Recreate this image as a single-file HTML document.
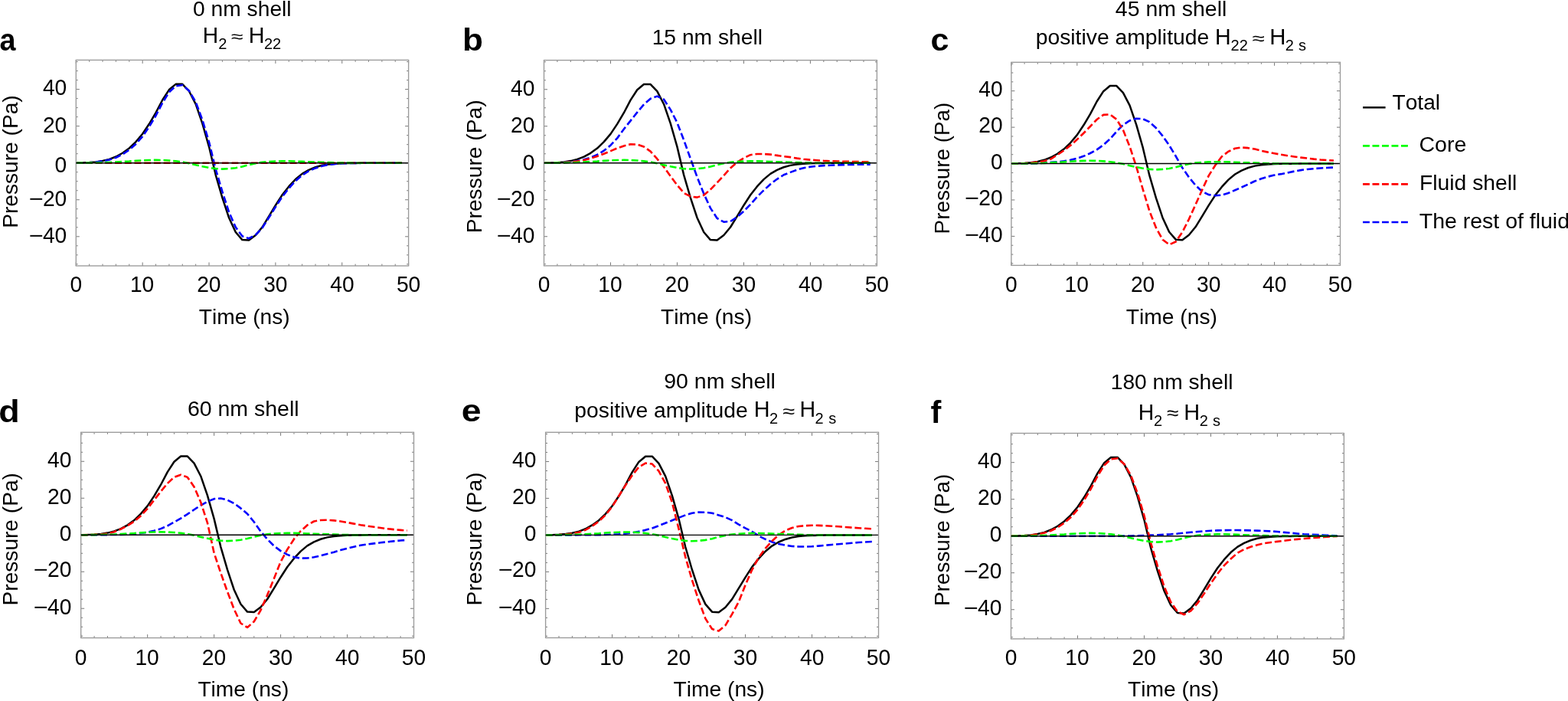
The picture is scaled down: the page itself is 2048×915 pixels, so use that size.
<!DOCTYPE html>
<html><head><meta charset="utf-8"><title>Pressure components vs time</title>
<style>
html,body{margin:0;padding:0;background:#fff;}
body{width:2048px;height:915px;overflow:hidden;}
svg{display:block;}
text{font-family:"Liberation Sans",Arial,Helvetica,sans-serif;font-kerning:none;font-feature-settings:"kern" 0;}
</style>
</head><body>
<svg width="2048" height="915" viewBox="0 0 2048 915" fill="#000">
<g>
<polyline points="99.3,212.58 107.99,212.46 116.67,212.1 125.36,211.38 134.04,210.06 142.73,207.89 151.42,204.53 160.1,199.73 168.79,193.48 177.47,185.07 186.16,174.74 194.85,161.77 203.53,147.11 212.22,130.53 220.9,117.08 229.59,109.87 238.28,109.87 246.96,119 255.65,135.82 264.33,161.05 273.02,191.56 281.71,228.32 290.39,258.11 299.08,284.29 307.76,303.03 316.45,313.12 325.14,313.61 333.82,307.12 342.51,296.55 351.19,282.37 359.88,267.96 368.57,254.5 377.25,243.45 385.94,234.08 394.62,226.87 403.31,221.83 412,218.23 420.68,215.82 429.37,214.38 438.05,213.66 446.74,213.18 455.43,212.99 464.11,212.89 472.8,212.82 481.48,212.77 490.17,212.75 498.86,212.72 507.54,212.7 516.23,212.7 524.91,212.7" fill="none" stroke="#000" stroke-width="2.5" stroke-linejoin="round"/>
<polyline points="99.3,212.58 107.99,212.51 116.67,212.22 125.36,211.62 134.04,210.54 142.73,208.62 151.42,205.73 160.1,201.41 168.79,195.64 177.47,187.95 186.16,178.1 194.85,165.49 203.53,150.96 212.22,134.26 220.9,120.32 229.59,112.28 238.28,111.07 246.96,118.52 255.65,133.18 264.33,156.48 273.02,185.31 281.71,220.87 290.39,250.18 299.08,276.85 307.76,296.55 316.45,308.32 325.14,311.2 333.82,306.64 342.51,297.51 351.19,284.05 359.88,270.12 368.57,256.91 377.25,245.85 385.94,236.24 394.62,228.68 403.31,223.27 412,219.43 420.68,216.78 429.37,214.98 438.05,213.9 446.74,213.3 455.43,213.04 464.11,212.89 472.8,212.82 481.48,212.77 490.17,212.75 498.86,212.72 507.54,212.7 516.23,212.7 524.91,212.7" fill="none" stroke="#0000ff" stroke-width="2.6" stroke-linejoin="round" stroke-dasharray="8.9 3.8"/>
<polyline points="99.3,212.7 107.99,212.7 116.67,212.7 125.36,212.7 134.04,212.7 142.73,212.7 151.42,212.7 160.1,212.7 168.79,212.7 177.47,212.7 186.16,212.7 194.85,212.7 203.53,212.7 212.22,212.7 220.9,212.7 229.59,212.7 238.28,212.7 246.96,212.7 255.65,212.7 264.33,212.7 273.02,212.7 281.71,212.7 290.39,212.7 299.08,212.7 307.76,212.7 316.45,212.7 325.14,212.7 333.82,212.7 342.51,212.7 351.19,212.7 359.88,212.7 368.57,212.7 377.25,212.7 385.94,212.7 394.62,212.7 403.31,212.7 412,212.7 420.68,212.7 429.37,212.7 438.05,212.7 446.74,212.7 455.43,212.7 464.11,212.7 472.8,212.7 481.48,212.7 490.17,212.7 498.86,212.7 507.54,212.7 516.23,212.7 524.91,212.7" fill="none" stroke="#ff0000" stroke-width="2.6" stroke-linejoin="round" stroke-dasharray="8.9 3.8"/>
<polyline points="99.3,212.7 107.99,212.65 116.67,212.58 125.36,212.46 134.04,212.22 142.73,211.98 151.42,211.5 160.1,211.02 168.79,210.54 177.47,209.82 186.16,209.34 194.85,208.98 203.53,208.86 212.22,208.98 220.9,209.46 229.59,210.3 238.28,211.5 246.96,213.18 255.65,215.34 264.33,217.26 273.02,218.95 281.71,220.15 290.39,220.63 299.08,220.15 307.76,219.19 316.45,217.51 325.14,215.1 333.82,213.18 342.51,211.74 351.19,211.02 359.88,210.54 368.57,210.3 377.25,210.3 385.94,210.54 394.62,210.9 403.31,211.26 412,211.5 420.68,211.74 429.37,212.1 438.05,212.46 446.74,212.58 455.43,212.65 464.11,212.7 472.8,212.7 481.48,212.7 490.17,212.7 498.86,212.7 507.54,212.7 516.23,212.7 524.91,212.7" fill="none" stroke="#00ff00" stroke-width="2.6" stroke-linejoin="round" stroke-dasharray="8.9 3.8"/>
<path d="M99.3 347v-4.5M99.3 78.4v4.5M116.67 347v-2.4M116.67 78.4v2.4M134.04 347v-2.4M134.04 78.4v2.4M151.42 347v-2.4M151.42 78.4v2.4M168.79 347v-2.4M168.79 78.4v2.4M186.16 347v-4.5M186.16 78.4v4.5M203.53 347v-2.4M203.53 78.4v2.4M220.9 347v-2.4M220.9 78.4v2.4M238.28 347v-2.4M238.28 78.4v2.4M255.65 347v-2.4M255.65 78.4v2.4M273.02 347v-4.5M273.02 78.4v4.5M290.39 347v-2.4M290.39 78.4v2.4M307.76 347v-2.4M307.76 78.4v2.4M325.14 347v-2.4M325.14 78.4v2.4M342.51 347v-2.4M342.51 78.4v2.4M359.88 347v-4.5M359.88 78.4v4.5M377.25 347v-2.4M377.25 78.4v2.4M394.62 347v-2.4M394.62 78.4v2.4M412 347v-2.4M412 78.4v2.4M429.37 347v-2.4M429.37 78.4v2.4M446.74 347v-4.5M446.74 78.4v4.5M464.11 347v-2.4M464.11 78.4v2.4M481.48 347v-2.4M481.48 78.4v2.4M498.86 347v-2.4M498.86 78.4v2.4M516.23 347v-2.4M516.23 78.4v2.4M533.6 347v-4.5M533.6 78.4v4.5M99.3 344.84h2.4M533.6 344.84h-2.4M99.3 332.83h2.4M533.6 332.83h-2.4M99.3 320.81h2.4M533.6 320.81h-2.4M99.3 308.8h4.5M533.6 308.8h-4.5M99.3 296.79h2.4M533.6 296.79h-2.4M99.3 284.78h2.4M533.6 284.78h-2.4M99.3 272.76h2.4M533.6 272.76h-2.4M99.3 260.75h4.5M533.6 260.75h-4.5M99.3 248.74h2.4M533.6 248.74h-2.4M99.3 236.73h2.4M533.6 236.73h-2.4M99.3 224.71h2.4M533.6 224.71h-2.4M99.3 212.7h4.5M533.6 212.7h-4.5M99.3 200.69h2.4M533.6 200.69h-2.4M99.3 188.67h2.4M533.6 188.67h-2.4M99.3 176.66h2.4M533.6 176.66h-2.4M99.3 164.65h4.5M533.6 164.65h-4.5M99.3 152.64h2.4M533.6 152.64h-2.4M99.3 140.62h2.4M533.6 140.62h-2.4M99.3 128.61h2.4M533.6 128.61h-2.4M99.3 116.6h4.5M533.6 116.6h-4.5M99.3 104.59h2.4M533.6 104.59h-2.4M99.3 92.57h2.4M533.6 92.57h-2.4M99.3 80.56h2.4M533.6 80.56h-2.4" stroke="#787878" stroke-width="1.0" fill="none"/>
<rect x="99.3" y="78.4" width="434.3" height="268.6" fill="none" stroke="#9a9a9a" stroke-width="1.35"/>
<line x1="99.3" y1="212.7" x2="532.9" y2="212.7" stroke="#000" stroke-width="1.4"/>
<text x="91.46" y="381" font-size="28.2" transform="matrix(1 0 0 1.02 0 -7.62)">0</text>
<text x="169.95" y="381" font-size="28.2" transform="matrix(1 0 0 1.02 0 -7.62)">10</text>
<text x="257.18" y="381" font-size="28.2" transform="matrix(1 0 0 1.02 0 -7.62)">20</text>
<text x="344.21" y="381" font-size="28.2" transform="matrix(1 0 0 1.02 0 -7.62)">30</text>
<text x="431.28" y="381" font-size="28.2" transform="matrix(1 0 0 1.02 0 -7.62)">40</text>
<text x="517.9" y="381" font-size="28.2" transform="matrix(1 0 0 1.02 0 -7.62)">50</text>
<text x="55.93" y="124.06" font-size="28.2" transform="matrix(1 0 0 1.02 0 -2.48)">40</text>
<text x="55.93" y="172.71" font-size="28.2" transform="matrix(1 0 0 1.02 0 -3.45)">20</text>
<text x="71.62" y="225.31" font-size="28.2" transform="matrix(1 0 0 1.02 0 -4.51)">0</text>
<text x="55.93" y="268.71" font-size="28.2" transform="matrix(1 0 0 1.02 0 -5.37)">20</text>
<text x="37.7" y="268.71" font-size="28.2" textLength="18.99" lengthAdjust="spacingAndGlyphs">−</text>
<text x="55.93" y="317.21" font-size="28.2" transform="matrix(1 0 0 1.02 0 -6.34)">40</text>
<text x="37.7" y="317.21" font-size="28.2" textLength="18.99" lengthAdjust="spacingAndGlyphs">−</text>
<text x="259.87" y="423" font-size="28.2" textLength="118.88" lengthAdjust="spacingAndGlyphs">Time (ns)</text>
<text transform="translate(23.41 297.81) rotate(-90)" x="0" y="0" font-size="28.2" textLength="173.55" lengthAdjust="spacingAndGlyphs">Pressure (Pa)</text>
</g>
<g>
<polyline points="710.5,212.63 719.2,212.51 727.9,212.15 736.59,211.43 745.29,210.11 753.99,207.95 762.69,204.59 771.39,199.79 780.08,193.55 788.78,185.15 797.48,174.83 806.18,161.87 814.88,147.23 823.57,130.68 832.27,117.24 840.97,110.04 849.67,110.04 858.37,119.16 867.06,135.96 875.76,161.15 884.46,191.63 893.16,228.35 901.86,258.11 910.55,284.26 919.25,302.98 927.95,313.06 936.65,313.54 945.35,307.06 954.04,296.5 962.74,282.34 971.44,267.95 980.14,254.51 988.84,243.47 997.53,234.11 1006.23,226.91 1014.93,221.87 1023.63,218.27 1032.33,215.87 1041.02,214.43 1049.72,213.71 1058.42,213.23 1067.12,213.04 1075.82,212.94 1084.51,212.87 1093.21,212.82 1101.91,212.8 1110.61,212.77 1119.31,212.75 1128,212.75 1136.7,212.75" fill="none" stroke="#000" stroke-width="2.5" stroke-linejoin="round"/>
<polyline points="710.5,212.75 719.2,212.68 727.9,212.51 736.59,212.07 745.29,211.31 753.99,210.09 762.69,208.28 771.39,205.59 780.08,201.87 788.78,196.74 797.48,189.7 806.18,180.37 814.88,168.47 823.57,157.58 832.27,146.61 840.97,136.47 849.67,128.71 858.37,125.64 867.06,129.79 875.76,143.11 884.46,160.16 893.16,182.79 901.86,207 910.55,231.03 919.25,252.84 927.95,271.65 936.65,284.96 945.35,289.73 954.04,289 962.74,283.34 971.44,275.72 980.14,266.9 988.84,256.99 997.53,248.4 1006.23,240.42 1014.93,233.78 1023.63,228.27 1032.33,224.9 1041.02,221.6 1049.72,219.24 1058.42,217.75 1067.12,216.82 1075.82,216.17 1084.51,215.68 1093.21,215.36 1101.91,215.12 1110.61,214.93 1119.31,214.79 1128,214.67 1136.7,214.6" fill="none" stroke="#0000ff" stroke-width="2.6" stroke-linejoin="round" stroke-dasharray="8.9 3.8"/>
<polyline points="710.5,212.75 719.2,212.68 727.9,212.51 736.59,212.16 745.29,211.55 753.99,210.51 762.69,208.98 771.39,206.77 780.08,203.97 788.78,200.7 797.48,197.14 806.18,193.48 814.88,190.44 823.57,188.27 832.27,188.52 840.97,191.48 849.67,197.62 858.37,207.47 867.06,217.8 875.76,230.03 884.46,241.55 893.16,251.87 901.86,256.43 910.55,257.63 919.25,254.75 927.95,247.31 936.65,238.37 945.35,229.03 954.04,219.43 962.74,211.75 971.44,206.33 980.14,202.18 988.84,200.99 997.53,200.99 1006.23,201.64 1014.93,202.87 1023.63,204.19 1032.33,205.15 1041.02,206.6 1049.72,207.79 1058.42,208.59 1067.12,209.21 1075.82,209.86 1084.51,210.22 1093.21,210.51 1101.91,210.75 1110.61,210.9 1119.31,211.07 1128,211.24 1136.7,211.36" fill="none" stroke="#ff0000" stroke-width="2.6" stroke-linejoin="round" stroke-dasharray="8.9 3.8"/>
<polyline points="710.5,212.75 719.2,212.7 727.9,212.63 736.59,212.51 745.29,212.27 753.99,212.03 762.69,211.55 771.39,211.07 780.08,210.59 788.78,209.87 797.48,209.39 806.18,209.03 814.88,208.91 823.57,209.03 832.27,209.51 840.97,210.35 849.67,211.55 858.37,213.23 867.06,215.39 875.76,217.31 884.46,218.99 893.16,220.19 901.86,220.67 910.55,220.19 919.25,219.23 927.95,217.55 936.65,215.15 945.35,213.23 954.04,211.79 962.74,211.07 971.44,210.59 980.14,210.35 988.84,210.35 997.53,210.59 1006.23,210.95 1014.93,211.31 1023.63,211.55 1032.33,211.79 1041.02,212.15 1049.72,212.51 1058.42,212.63 1067.12,212.7 1075.82,212.75 1084.51,212.75 1093.21,212.75 1101.91,212.75 1110.61,212.75 1119.31,212.75 1128,212.75 1136.7,212.75" fill="none" stroke="#00ff00" stroke-width="2.6" stroke-linejoin="round" stroke-dasharray="8.9 3.8"/>
<path d="M710.5 346.9v-4.5M710.5 78.6v4.5M727.9 346.9v-2.4M727.9 78.6v2.4M745.29 346.9v-2.4M745.29 78.6v2.4M762.69 346.9v-2.4M762.69 78.6v2.4M780.08 346.9v-2.4M780.08 78.6v2.4M797.48 346.9v-4.5M797.48 78.6v4.5M814.88 346.9v-2.4M814.88 78.6v2.4M832.27 346.9v-2.4M832.27 78.6v2.4M849.67 346.9v-2.4M849.67 78.6v2.4M867.06 346.9v-2.4M867.06 78.6v2.4M884.46 346.9v-4.5M884.46 78.6v4.5M901.86 346.9v-2.4M901.86 78.6v2.4M919.25 346.9v-2.4M919.25 78.6v2.4M936.65 346.9v-2.4M936.65 78.6v2.4M954.04 346.9v-2.4M954.04 78.6v2.4M971.44 346.9v-4.5M971.44 78.6v4.5M988.84 346.9v-2.4M988.84 78.6v2.4M1006.23 346.9v-2.4M1006.23 78.6v2.4M1023.63 346.9v-2.4M1023.63 78.6v2.4M1041.02 346.9v-2.4M1041.02 78.6v2.4M1058.42 346.9v-4.5M1058.42 78.6v4.5M1075.82 346.9v-2.4M1075.82 78.6v2.4M1093.21 346.9v-2.4M1093.21 78.6v2.4M1110.61 346.9v-2.4M1110.61 78.6v2.4M1128 346.9v-2.4M1128 78.6v2.4M1145.4 346.9v-4.5M1145.4 78.6v4.5M710.5 344.74h2.4M1145.4 344.74h-2.4M710.5 332.74h2.4M1145.4 332.74h-2.4M710.5 320.74h2.4M1145.4 320.74h-2.4M710.5 308.74h4.5M1145.4 308.74h-4.5M710.5 296.74h2.4M1145.4 296.74h-2.4M710.5 284.74h2.4M1145.4 284.74h-2.4M710.5 272.75h2.4M1145.4 272.75h-2.4M710.5 260.75h4.5M1145.4 260.75h-4.5M710.5 248.75h2.4M1145.4 248.75h-2.4M710.5 236.75h2.4M1145.4 236.75h-2.4M710.5 224.75h2.4M1145.4 224.75h-2.4M710.5 212.75h4.5M1145.4 212.75h-4.5M710.5 200.75h2.4M1145.4 200.75h-2.4M710.5 188.75h2.4M1145.4 188.75h-2.4M710.5 176.75h2.4M1145.4 176.75h-2.4M710.5 164.75h4.5M1145.4 164.75h-4.5M710.5 152.75h2.4M1145.4 152.75h-2.4M710.5 140.76h2.4M1145.4 140.76h-2.4M710.5 128.76h2.4M1145.4 128.76h-2.4M710.5 116.76h4.5M1145.4 116.76h-4.5M710.5 104.76h2.4M1145.4 104.76h-2.4M710.5 92.76h2.4M1145.4 92.76h-2.4M710.5 80.76h2.4M1145.4 80.76h-2.4" stroke="#787878" stroke-width="1.0" fill="none"/>
<rect x="710.5" y="78.6" width="434.9" height="268.3" fill="none" stroke="#9a9a9a" stroke-width="1.35"/>
<line x1="710.5" y1="212.75" x2="1144.7" y2="212.75" stroke="#000" stroke-width="1.4"/>
<text x="702.66" y="381" font-size="28.2" transform="matrix(1 0 0 1.02 0 -7.62)">0</text>
<text x="781.27" y="381" font-size="28.2" transform="matrix(1 0 0 1.02 0 -7.62)">10</text>
<text x="868.62" y="381" font-size="28.2" transform="matrix(1 0 0 1.02 0 -7.62)">20</text>
<text x="955.77" y="381" font-size="28.2" transform="matrix(1 0 0 1.02 0 -7.62)">30</text>
<text x="1042.96" y="381" font-size="28.2" transform="matrix(1 0 0 1.02 0 -7.62)">40</text>
<text x="1129.7" y="381" font-size="28.2" transform="matrix(1 0 0 1.02 0 -7.62)">50</text>
<text x="667.03" y="125.11" font-size="28.2" transform="matrix(1 0 0 1.02 0 -2.5)">40</text>
<text x="667.03" y="173.21" font-size="28.2" transform="matrix(1 0 0 1.02 0 -3.46)">20</text>
<text x="682.72" y="222.01" font-size="28.2" transform="matrix(1 0 0 1.02 0 -4.44)">0</text>
<text x="667.03" y="268.71" font-size="28.2" transform="matrix(1 0 0 1.02 0 -5.37)">20</text>
<text x="648.8" y="268.71" font-size="28.2" textLength="18.99" lengthAdjust="spacingAndGlyphs">−</text>
<text x="667.03" y="316.51" font-size="28.2" transform="matrix(1 0 0 1.02 0 -6.33)">40</text>
<text x="648.8" y="316.51" font-size="28.2" textLength="18.99" lengthAdjust="spacingAndGlyphs">−</text>
<text x="862.97" y="423" font-size="28.2" textLength="119.08" lengthAdjust="spacingAndGlyphs">Time (ns)</text>
<text transform="translate(629.31 304.31) rotate(-90)" x="0" y="0" font-size="28.2" textLength="173.86" lengthAdjust="spacingAndGlyphs">Pressure (Pa)</text>
</g>
<g>
<polyline points="1320.9,213.43 1329.49,213.31 1338.08,212.96 1346.68,212.25 1355.27,210.94 1363.86,208.81 1372.45,205.49 1381.04,200.75 1389.64,194.58 1398.23,186.28 1406.82,176.09 1415.41,163.28 1424,148.82 1432.6,132.46 1441.19,119.18 1449.78,112.06 1458.37,112.06 1466.96,121.07 1475.56,137.67 1484.15,162.57 1492.74,192.68 1501.33,228.96 1509.92,258.37 1518.52,284.21 1527.11,302.71 1535.7,312.67 1544.29,313.14 1552.88,306.74 1561.48,296.3 1570.07,282.31 1578.66,268.09 1587.25,254.81 1595.84,243.9 1604.44,234.65 1613.03,227.54 1621.62,222.56 1630.21,219 1638.8,216.63 1647.4,215.21 1655.99,214.5 1664.58,214.02 1673.17,213.83 1681.76,213.74 1690.36,213.67 1698.95,213.62 1707.54,213.6 1716.13,213.57 1724.72,213.55 1733.32,213.55 1741.91,213.55" fill="none" stroke="#000" stroke-width="2.5" stroke-linejoin="round"/>
<polyline points="1320.9,213.55 1329.49,213.54 1338.08,213.49 1346.68,213.42 1355.27,213.31 1363.86,212.54 1372.45,211.74 1381.04,211.32 1389.64,210.4 1398.23,208.88 1406.82,206.73 1415.41,203.82 1424,200.01 1432.6,195.32 1441.19,189.23 1449.78,181.47 1458.37,171.7 1466.96,162.99 1475.56,157.4 1484.15,154.72 1492.74,155.22 1501.33,159.16 1509.92,167.01 1518.52,177.4 1527.11,189.68 1535.7,203.77 1544.29,218.99 1552.88,231.29 1561.48,241.78 1570.07,249.88 1578.66,254.1 1587.25,255.28 1595.84,254.55 1604.44,251.96 1613.03,248.32 1621.62,244.48 1630.21,240.54 1638.8,236.53 1647.4,233.28 1655.99,230.55 1664.58,228.59 1673.17,227.15 1681.76,225.41 1690.36,223.64 1698.95,222.1 1707.54,220.94 1716.13,220.15 1724.72,219.53 1733.32,219 1741.91,218.53" fill="none" stroke="#0000ff" stroke-width="2.6" stroke-linejoin="round" stroke-dasharray="8.9 3.8"/>
<polyline points="1320.9,213.55 1329.49,213.44 1338.08,213.19 1346.68,212.62 1355.27,211.65 1363.86,210.19 1372.45,207.57 1381.04,202.13 1389.64,196.36 1398.23,189.82 1406.82,182.08 1415.41,173.73 1424,165.01 1432.6,155.99 1441.19,149.85 1449.78,149.4 1458.37,155.77 1466.96,169.85 1475.56,191.25 1484.15,217.33 1492.74,247.2 1501.33,275.36 1509.92,297.18 1518.52,312.69 1527.11,319.29 1535.7,315.54 1544.29,303.05 1552.88,286.14 1561.48,267.19 1570.07,247.96 1578.66,229.38 1587.25,215.77 1595.84,204.25 1604.44,197.76 1613.03,193.8 1621.62,192.45 1630.21,193.17 1638.8,194.59 1647.4,196.74 1655.99,198.61 1664.58,200.19 1673.17,201.82 1681.76,203.17 1690.36,204.46 1698.95,205.61 1707.54,206.63 1716.13,207.66 1724.72,208.46 1733.32,209.04 1741.91,209.52" fill="none" stroke="#ff0000" stroke-width="2.6" stroke-linejoin="round" stroke-dasharray="8.9 3.8"/>
<polyline points="1320.9,213.55 1329.49,213.5 1338.08,213.43 1346.68,213.31 1355.27,213.08 1363.86,212.84 1372.45,212.36 1381.04,211.89 1389.64,211.42 1398.23,210.7 1406.82,210.23 1415.41,209.87 1424,209.76 1432.6,209.87 1441.19,210.35 1449.78,211.18 1458.37,212.36 1466.96,214.02 1475.56,216.16 1484.15,218.06 1492.74,219.72 1501.33,220.9 1509.92,221.37 1518.52,220.9 1527.11,219.95 1535.7,218.29 1544.29,215.92 1552.88,214.02 1561.48,212.6 1570.07,211.89 1578.66,211.42 1587.25,211.18 1595.84,211.18 1604.44,211.42 1613.03,211.77 1621.62,212.13 1630.21,212.36 1638.8,212.6 1647.4,212.96 1655.99,213.31 1664.58,213.43 1673.17,213.5 1681.76,213.55 1690.36,213.55 1698.95,213.55 1707.54,213.55 1716.13,213.55 1724.72,213.55 1733.32,213.55 1741.91,213.55" fill="none" stroke="#00ff00" stroke-width="2.6" stroke-linejoin="round" stroke-dasharray="8.9 3.8"/>
<path d="M1320.9 346.4v-4.5M1320.9 81.3v4.5M1338.08 346.4v-2.4M1338.08 81.3v2.4M1355.27 346.4v-2.4M1355.27 81.3v2.4M1372.45 346.4v-2.4M1372.45 81.3v2.4M1389.64 346.4v-2.4M1389.64 81.3v2.4M1406.82 346.4v-4.5M1406.82 81.3v4.5M1424 346.4v-2.4M1424 81.3v2.4M1441.19 346.4v-2.4M1441.19 81.3v2.4M1458.37 346.4v-2.4M1458.37 81.3v2.4M1475.56 346.4v-2.4M1475.56 81.3v2.4M1492.74 346.4v-4.5M1492.74 81.3v4.5M1509.92 346.4v-2.4M1509.92 81.3v2.4M1527.11 346.4v-2.4M1527.11 81.3v2.4M1544.29 346.4v-2.4M1544.29 81.3v2.4M1561.48 346.4v-2.4M1561.48 81.3v2.4M1578.66 346.4v-4.5M1578.66 81.3v4.5M1595.84 346.4v-2.4M1595.84 81.3v2.4M1613.03 346.4v-2.4M1613.03 81.3v2.4M1630.21 346.4v-2.4M1630.21 81.3v2.4M1647.4 346.4v-2.4M1647.4 81.3v2.4M1664.58 346.4v-4.5M1664.58 81.3v4.5M1681.76 346.4v-2.4M1681.76 81.3v2.4M1698.95 346.4v-2.4M1698.95 81.3v2.4M1716.13 346.4v-2.4M1716.13 81.3v2.4M1733.32 346.4v-2.4M1733.32 81.3v2.4M1750.5 346.4v-4.5M1750.5 81.3v4.5M1320.9 343.97h2.4M1750.5 343.97h-2.4M1320.9 332.11h2.4M1750.5 332.11h-2.4M1320.9 320.25h2.4M1750.5 320.25h-2.4M1320.9 308.4h4.5M1750.5 308.4h-4.5M1320.9 296.54h2.4M1750.5 296.54h-2.4M1320.9 284.69h2.4M1750.5 284.69h-2.4M1320.9 272.83h2.4M1750.5 272.83h-2.4M1320.9 260.97h4.5M1750.5 260.97h-4.5M1320.9 249.12h2.4M1750.5 249.12h-2.4M1320.9 237.26h2.4M1750.5 237.26h-2.4M1320.9 225.41h2.4M1750.5 225.41h-2.4M1320.9 213.55h4.5M1750.5 213.55h-4.5M1320.9 201.69h2.4M1750.5 201.69h-2.4M1320.9 189.84h2.4M1750.5 189.84h-2.4M1320.9 177.98h2.4M1750.5 177.98h-2.4M1320.9 166.13h4.5M1750.5 166.13h-4.5M1320.9 154.27h2.4M1750.5 154.27h-2.4M1320.9 142.41h2.4M1750.5 142.41h-2.4M1320.9 130.56h2.4M1750.5 130.56h-2.4M1320.9 118.7h4.5M1750.5 118.7h-4.5M1320.9 106.85h2.4M1750.5 106.85h-2.4M1320.9 94.99h2.4M1750.5 94.99h-2.4M1320.9 83.13h2.4M1750.5 83.13h-2.4" stroke="#787878" stroke-width="1.0" fill="none"/>
<rect x="1320.9" y="81.3" width="429.6" height="265.1" fill="none" stroke="#9a9a9a" stroke-width="1.35"/>
<line x1="1320.9" y1="213.55" x2="1749.8" y2="213.55" stroke="#000" stroke-width="1.4"/>
<text x="1313.06" y="381" font-size="28.2" transform="matrix(1 0 0 1.02 0 -7.62)">0</text>
<text x="1390.61" y="381" font-size="28.2" transform="matrix(1 0 0 1.02 0 -7.62)">10</text>
<text x="1476.9" y="381" font-size="28.2" transform="matrix(1 0 0 1.02 0 -7.62)">20</text>
<text x="1562.99" y="381" font-size="28.2" transform="matrix(1 0 0 1.02 0 -7.62)">30</text>
<text x="1649.12" y="381" font-size="28.2" transform="matrix(1 0 0 1.02 0 -7.62)">40</text>
<text x="1734.8" y="381" font-size="28.2" transform="matrix(1 0 0 1.02 0 -7.62)">50</text>
<text x="1278.23" y="125.71" font-size="28.2" transform="matrix(1 0 0 1.02 0 -2.51)">40</text>
<text x="1278.23" y="173.21" font-size="28.2" transform="matrix(1 0 0 1.02 0 -3.46)">20</text>
<text x="1293.92" y="221.01" font-size="28.2" transform="matrix(1 0 0 1.02 0 -4.42)">0</text>
<text x="1278.23" y="268.31" font-size="28.2" transform="matrix(1 0 0 1.02 0 -5.37)">20</text>
<text x="1260" y="268.31" font-size="28.2" textLength="18.99" lengthAdjust="spacingAndGlyphs">−</text>
<text x="1278.23" y="315.61" font-size="28.2" transform="matrix(1 0 0 1.02 0 -6.31)">40</text>
<text x="1260" y="315.61" font-size="28.2" textLength="18.99" lengthAdjust="spacingAndGlyphs">−</text>
<text x="1470.77" y="423" font-size="28.2" textLength="119.18" lengthAdjust="spacingAndGlyphs">Time (ns)</text>
<text transform="translate(1240.41 305.38) rotate(-90)" x="0" y="0" font-size="28.2" textLength="171.71" lengthAdjust="spacingAndGlyphs">Pressure (Pa)</text>
</g>
<g>
<polyline points="105.7,698.13 114.4,698.01 123.09,697.65 131.79,696.93 140.48,695.61 149.18,693.45 157.88,690.09 166.57,685.29 175.27,679.05 183.96,670.65 192.66,660.33 201.36,647.37 210.05,632.73 218.75,616.18 227.44,602.74 236.14,595.54 244.84,595.54 253.53,604.66 262.23,621.46 270.92,646.65 279.62,677.13 288.32,713.85 297.01,743.61 305.71,769.76 314.4,788.48 323.1,798.56 331.8,799.04 340.49,792.56 349.19,782 357.88,767.84 366.58,753.45 375.28,740.01 383.97,728.97 392.67,719.61 401.36,712.41 410.06,707.37 418.76,703.77 427.45,701.37 436.15,699.93 444.84,699.21 453.54,698.73 462.24,698.54 470.93,698.44 479.63,698.37 488.32,698.32 497.02,698.3 505.72,698.27 514.41,698.25 523.11,698.25 531.8,698.25" fill="none" stroke="#000" stroke-width="2.5" stroke-linejoin="round"/>
<polyline points="105.7,698.25 114.4,698.24 123.09,698.21 131.79,698.16 140.48,698.09 149.18,698 157.88,697.89 166.57,697.6 175.27,697.05 183.96,696.01 192.66,694.58 201.36,692.77 210.05,690.13 218.75,686.44 227.44,681.43 236.14,676.53 244.84,671.06 253.53,665.22 262.23,659.61 270.92,654.69 279.62,651.17 288.32,650.49 297.01,652.62 305.71,657.08 314.4,663.42 323.1,670.75 331.8,681.28 340.49,693.6 349.19,703.9 357.88,712.58 366.58,719.15 375.28,723.9 383.97,727.21 392.67,728.68 401.36,728.56 410.06,727.3 418.76,725.36 427.45,722.91 436.15,720.64 444.84,718.09 453.54,715.75 462.24,713.77 470.93,711.81 479.63,710.47 488.32,709.41 497.02,708.3 505.72,707.3 514.41,706.39 523.11,705.52 531.8,704.85" fill="none" stroke="#0000ff" stroke-width="2.6" stroke-linejoin="round" stroke-dasharray="8.9 3.8"/>
<polyline points="105.7,698.25 114.4,698.14 123.09,697.89 131.79,697.43 140.48,696.57 149.18,694.2 157.88,690.58 166.57,686.07 175.27,680.64 183.96,673.19 192.66,663.84 201.36,652.65 210.05,641.46 218.75,630.94 227.44,622.81 236.14,619.68 244.84,622.9 253.53,635.44 262.23,655.5 270.92,682.4 279.62,721.83 288.32,747.89 297.01,772.28 305.71,795.15 314.4,813.5 323.1,818.94 331.8,811.27 340.49,796.51 349.19,776.61 357.88,755.17 366.58,733.29 375.28,717.22 383.97,703.69 392.67,693.28 401.36,685.48 410.06,680.5 418.76,678.94 427.45,678.81 436.15,679.34 444.84,680.51 453.54,682 462.24,683.62 470.93,685.2 479.63,686.58 488.32,687.83 497.02,689.01 505.72,690.18 514.41,691.13 523.11,691.9 531.8,692.49" fill="none" stroke="#ff0000" stroke-width="2.6" stroke-linejoin="round" stroke-dasharray="8.9 3.8"/>
<polyline points="105.7,698.25 114.4,698.2 123.09,698.13 131.79,698.01 140.48,697.77 149.18,697.53 157.88,697.05 166.57,696.57 175.27,696.09 183.96,695.37 192.66,694.89 201.36,694.53 210.05,694.41 218.75,694.53 227.44,695.01 236.14,695.85 244.84,697.05 253.53,698.73 262.23,700.89 270.92,702.81 279.62,704.49 288.32,705.69 297.01,706.17 305.71,705.69 314.4,704.73 323.1,703.05 331.8,700.65 340.49,698.73 349.19,697.29 357.88,696.57 366.58,696.09 375.28,695.85 383.97,695.85 392.67,696.09 401.36,696.45 410.06,696.81 418.76,697.05 427.45,697.29 436.15,697.65 444.84,698.01 453.54,698.13 462.24,698.2 470.93,698.25 479.63,698.25 488.32,698.25 497.02,698.25 505.72,698.25 514.41,698.25 523.11,698.25 531.8,698.25" fill="none" stroke="#00ff00" stroke-width="2.6" stroke-linejoin="round" stroke-dasharray="8.9 3.8"/>
<path d="M105.7 832.6v-4.5M105.7 564.3v4.5M123.09 832.6v-2.4M123.09 564.3v2.4M140.48 832.6v-2.4M140.48 564.3v2.4M157.88 832.6v-2.4M157.88 564.3v2.4M175.27 832.6v-2.4M175.27 564.3v2.4M192.66 832.6v-4.5M192.66 564.3v4.5M210.05 832.6v-2.4M210.05 564.3v2.4M227.44 832.6v-2.4M227.44 564.3v2.4M244.84 832.6v-2.4M244.84 564.3v2.4M262.23 832.6v-2.4M262.23 564.3v2.4M279.62 832.6v-4.5M279.62 564.3v4.5M297.01 832.6v-2.4M297.01 564.3v2.4M314.4 832.6v-2.4M314.4 564.3v2.4M331.8 832.6v-2.4M331.8 564.3v2.4M349.19 832.6v-2.4M349.19 564.3v2.4M366.58 832.6v-4.5M366.58 564.3v4.5M383.97 832.6v-2.4M383.97 564.3v2.4M401.36 832.6v-2.4M401.36 564.3v2.4M418.76 832.6v-2.4M418.76 564.3v2.4M436.15 832.6v-2.4M436.15 564.3v2.4M453.54 832.6v-4.5M453.54 564.3v4.5M470.93 832.6v-2.4M470.93 564.3v2.4M488.32 832.6v-2.4M488.32 564.3v2.4M505.72 832.6v-2.4M505.72 564.3v2.4M523.11 832.6v-2.4M523.11 564.3v2.4M540.5 832.6v-4.5M540.5 564.3v4.5M105.7 830.24h2.4M540.5 830.24h-2.4M105.7 818.24h2.4M540.5 818.24h-2.4M105.7 806.24h2.4M540.5 806.24h-2.4M105.7 794.24h4.5M540.5 794.24h-4.5M105.7 782.24h2.4M540.5 782.24h-2.4M105.7 770.24h2.4M540.5 770.24h-2.4M105.7 758.25h2.4M540.5 758.25h-2.4M105.7 746.25h4.5M540.5 746.25h-4.5M105.7 734.25h2.4M540.5 734.25h-2.4M105.7 722.25h2.4M540.5 722.25h-2.4M105.7 710.25h2.4M540.5 710.25h-2.4M105.7 698.25h4.5M540.5 698.25h-4.5M105.7 686.25h2.4M540.5 686.25h-2.4M105.7 674.25h2.4M540.5 674.25h-2.4M105.7 662.25h2.4M540.5 662.25h-2.4M105.7 650.25h4.5M540.5 650.25h-4.5M105.7 638.25h2.4M540.5 638.25h-2.4M105.7 626.26h2.4M540.5 626.26h-2.4M105.7 614.26h2.4M540.5 614.26h-2.4M105.7 602.26h4.5M540.5 602.26h-4.5M105.7 590.26h2.4M540.5 590.26h-2.4M105.7 578.26h2.4M540.5 578.26h-2.4M105.7 566.26h2.4M540.5 566.26h-2.4" stroke="#787878" stroke-width="1.0" fill="none"/>
<rect x="105.7" y="564.3" width="434.8" height="268.3" fill="none" stroke="#9a9a9a" stroke-width="1.35"/>
<line x1="105.7" y1="698.25" x2="539.8" y2="698.25" stroke="#000" stroke-width="1.4"/>
<text x="97.86" y="867.8" font-size="28.2" transform="matrix(1 0 0 1.02 0 -17.36)">0</text>
<text x="176.45" y="867.8" font-size="28.2" transform="matrix(1 0 0 1.02 0 -17.36)">10</text>
<text x="263.78" y="867.8" font-size="28.2" transform="matrix(1 0 0 1.02 0 -17.36)">20</text>
<text x="350.91" y="867.8" font-size="28.2" transform="matrix(1 0 0 1.02 0 -17.36)">30</text>
<text x="438.08" y="867.8" font-size="28.2" transform="matrix(1 0 0 1.02 0 -17.36)">40</text>
<text x="524.8" y="867.8" font-size="28.2" transform="matrix(1 0 0 1.02 0 -17.36)">50</text>
<text x="62.03" y="609.61" font-size="28.2" transform="matrix(1 0 0 1.02 0 -12.19)">40</text>
<text x="62.03" y="657.61" font-size="28.2" transform="matrix(1 0 0 1.02 0 -13.15)">20</text>
<text x="77.72" y="706.01" font-size="28.2" transform="matrix(1 0 0 1.02 0 -14.12)">0</text>
<text x="62.03" y="753.31" font-size="28.2" transform="matrix(1 0 0 1.02 0 -15.07)">20</text>
<text x="43.8" y="753.31" font-size="28.2" textLength="18.99" lengthAdjust="spacingAndGlyphs">−</text>
<text x="62.03" y="801.51" font-size="28.2" transform="matrix(1 0 0 1.02 0 -16.03)">40</text>
<text x="43.8" y="801.51" font-size="28.2" textLength="18.99" lengthAdjust="spacingAndGlyphs">−</text>
<text x="258.42" y="908.75" font-size="28.2" textLength="118.93" lengthAdjust="spacingAndGlyphs">Time (ns)</text>
<text transform="translate(23.41 790.4) rotate(-90)" x="0" y="0" font-size="28.2" textLength="173.25" lengthAdjust="spacingAndGlyphs">Pressure (Pa)</text>
</g>
<g>
<polyline points="712.6,698.28 721.3,698.16 730,697.8 738.69,697.08 747.39,695.76 756.09,693.6 764.79,690.24 773.49,685.45 782.18,679.21 790.88,670.81 799.58,660.5 808.28,647.54 816.98,632.91 825.67,616.36 834.37,602.92 843.07,595.73 851.77,595.73 860.47,604.84 869.16,621.63 877.86,646.82 886.56,677.29 895.26,713.99 903.96,743.74 912.65,769.89 921.35,788.6 930.05,798.68 938.75,799.15 947.45,792.68 956.14,782.12 964.84,767.97 973.54,753.58 982.24,740.14 990.94,729.11 999.63,719.75 1008.33,712.55 1017.03,707.52 1025.73,703.92 1034.43,701.52 1043.12,700.08 1051.82,699.36 1060.52,698.88 1069.22,698.69 1077.92,698.59 1086.61,698.52 1095.31,698.47 1104.01,698.45 1112.71,698.42 1121.41,698.4 1130.1,698.4 1138.8,698.4" fill="none" stroke="#000" stroke-width="2.5" stroke-linejoin="round"/>
<polyline points="712.6,698.4 721.3,698.4 730,698.39 738.69,698.37 747.39,698.34 756.09,698.31 764.79,698.27 773.49,698.22 782.18,698.16 790.88,697.99 799.58,697.68 808.28,697.18 816.98,696.48 825.67,695.52 834.37,693.87 843.07,691.87 851.77,689.46 860.47,686.22 869.16,682.79 877.86,679.26 886.56,675.75 895.26,672.35 903.96,669.83 912.65,668.54 921.35,668.7 930.05,669.81 938.75,672.39 947.45,675.12 956.14,679.1 964.84,684.58 973.54,689.4 982.24,693.9 990.94,699.36 999.63,703.82 1008.33,707.4 1017.03,709.94 1025.73,711.72 1034.43,712.93 1043.12,713.51 1051.82,713.51 1060.52,713.28 1069.22,712.61 1077.92,711.77 1086.61,710.93 1095.31,710.27 1104.01,709.53 1112.71,708.77 1121.41,708.06 1130.1,707.54 1138.8,707.04" fill="none" stroke="#0000ff" stroke-width="2.6" stroke-linejoin="round" stroke-dasharray="8.9 3.8"/>
<polyline points="712.6,698.4 721.3,698.29 730,698.04 738.69,697.47 747.39,696.48 756.09,694.74 764.79,691.66 773.49,686.74 782.18,680.53 790.88,672.21 799.58,661.22 808.28,647.33 816.98,633.38 825.67,620.56 834.37,609.62 843.07,604.57 851.77,605.56 860.47,614.87 869.16,630.99 877.86,655.79 886.56,690.45 895.26,727.11 903.96,757.24 912.65,784.02 921.35,807.35 930.05,820.99 938.75,823.62 947.45,816.37 956.14,801.61 964.84,785.57 973.54,763.53 982.24,743.82 990.94,727.67 999.63,715.8 1008.33,706.19 1017.03,698.3 1025.73,692.5 1034.43,688.96 1043.12,686.93 1051.82,686.16 1060.52,685.77 1069.22,685.86 1077.92,686.25 1086.61,686.71 1095.31,687.31 1104.01,687.97 1112.71,688.64 1121.41,689.27 1130.1,689.75 1138.8,690.24" fill="none" stroke="#ff0000" stroke-width="2.6" stroke-linejoin="round" stroke-dasharray="8.9 3.8"/>
<polyline points="712.6,698.4 721.3,698.35 730,698.28 738.69,698.16 747.39,697.92 756.09,697.68 764.79,697.2 773.49,696.72 782.18,696.24 790.88,695.52 799.58,695.04 808.28,694.68 816.98,694.56 825.67,694.68 834.37,695.16 843.07,696 851.77,697.2 860.47,698.88 869.16,701.04 877.86,702.96 886.56,704.64 895.26,705.84 903.96,706.32 912.65,705.84 921.35,704.88 930.05,703.2 938.75,700.8 947.45,698.88 956.14,697.44 964.84,696.72 973.54,696.24 982.24,696 990.94,696 999.63,696.24 1008.33,696.6 1017.03,696.96 1025.73,697.2 1034.43,697.44 1043.12,697.8 1051.82,698.16 1060.52,698.28 1069.22,698.35 1077.92,698.4 1086.61,698.4 1095.31,698.4 1104.01,698.4 1112.71,698.4 1121.41,698.4 1130.1,698.4 1138.8,698.4" fill="none" stroke="#00ff00" stroke-width="2.6" stroke-linejoin="round" stroke-dasharray="8.9 3.8"/>
<path d="M712.6 832.5v-4.5M712.6 564.3v4.5M730 832.5v-2.4M730 564.3v2.4M747.39 832.5v-2.4M747.39 564.3v2.4M764.79 832.5v-2.4M764.79 564.3v2.4M782.18 832.5v-2.4M782.18 564.3v2.4M799.58 832.5v-4.5M799.58 564.3v4.5M816.98 832.5v-2.4M816.98 564.3v2.4M834.37 832.5v-2.4M834.37 564.3v2.4M851.77 832.5v-2.4M851.77 564.3v2.4M869.16 832.5v-2.4M869.16 564.3v2.4M886.56 832.5v-4.5M886.56 564.3v4.5M903.96 832.5v-2.4M903.96 564.3v2.4M921.35 832.5v-2.4M921.35 564.3v2.4M938.75 832.5v-2.4M938.75 564.3v2.4M956.14 832.5v-2.4M956.14 564.3v2.4M973.54 832.5v-4.5M973.54 564.3v4.5M990.94 832.5v-2.4M990.94 564.3v2.4M1008.33 832.5v-2.4M1008.33 564.3v2.4M1025.73 832.5v-2.4M1025.73 564.3v2.4M1043.12 832.5v-2.4M1043.12 564.3v2.4M1060.52 832.5v-4.5M1060.52 564.3v4.5M1077.92 832.5v-2.4M1077.92 564.3v2.4M1095.31 832.5v-2.4M1095.31 564.3v2.4M1112.71 832.5v-2.4M1112.71 564.3v2.4M1130.1 832.5v-2.4M1130.1 564.3v2.4M1147.5 832.5v-4.5M1147.5 564.3v4.5M712.6 830.34h2.4M1147.5 830.34h-2.4M712.6 818.35h2.4M1147.5 818.35h-2.4M712.6 806.35h2.4M1147.5 806.35h-2.4M712.6 794.36h4.5M1147.5 794.36h-4.5M712.6 782.36h2.4M1147.5 782.36h-2.4M712.6 770.37h2.4M1147.5 770.37h-2.4M712.6 758.37h2.4M1147.5 758.37h-2.4M712.6 746.38h4.5M1147.5 746.38h-4.5M712.6 734.38h2.4M1147.5 734.38h-2.4M712.6 722.39h2.4M1147.5 722.39h-2.4M712.6 710.39h2.4M1147.5 710.39h-2.4M712.6 698.4h4.5M1147.5 698.4h-4.5M712.6 686.41h2.4M1147.5 686.41h-2.4M712.6 674.41h2.4M1147.5 674.41h-2.4M712.6 662.42h2.4M1147.5 662.42h-2.4M712.6 650.42h4.5M1147.5 650.42h-4.5M712.6 638.43h2.4M1147.5 638.43h-2.4M712.6 626.43h2.4M1147.5 626.43h-2.4M712.6 614.44h2.4M1147.5 614.44h-2.4M712.6 602.44h4.5M1147.5 602.44h-4.5M712.6 590.45h2.4M1147.5 590.45h-2.4M712.6 578.45h2.4M1147.5 578.45h-2.4M712.6 566.46h2.4M1147.5 566.46h-2.4" stroke="#787878" stroke-width="1.0" fill="none"/>
<rect x="712.6" y="564.3" width="434.9" height="268.2" fill="none" stroke="#9a9a9a" stroke-width="1.35"/>
<line x1="712.6" y1="698.4" x2="1146.8" y2="698.4" stroke="#000" stroke-width="1.4"/>
<text x="704.76" y="867.8" font-size="28.2" transform="matrix(1 0 0 1.02 0 -17.36)">0</text>
<text x="783.37" y="867.8" font-size="28.2" transform="matrix(1 0 0 1.02 0 -17.36)">10</text>
<text x="870.72" y="867.8" font-size="28.2" transform="matrix(1 0 0 1.02 0 -17.36)">20</text>
<text x="957.87" y="867.8" font-size="28.2" transform="matrix(1 0 0 1.02 0 -17.36)">30</text>
<text x="1045.06" y="867.8" font-size="28.2" transform="matrix(1 0 0 1.02 0 -17.36)">40</text>
<text x="1131.8" y="867.8" font-size="28.2" transform="matrix(1 0 0 1.02 0 -17.36)">50</text>
<text x="669.03" y="609.61" font-size="28.2" transform="matrix(1 0 0 1.02 0 -12.19)">40</text>
<text x="669.03" y="657.61" font-size="28.2" transform="matrix(1 0 0 1.02 0 -13.15)">20</text>
<text x="684.72" y="706.01" font-size="28.2" transform="matrix(1 0 0 1.02 0 -14.12)">0</text>
<text x="669.03" y="753.31" font-size="28.2" transform="matrix(1 0 0 1.02 0 -15.07)">20</text>
<text x="650.8" y="753.31" font-size="28.2" textLength="18.99" lengthAdjust="spacingAndGlyphs">−</text>
<text x="669.03" y="801.51" font-size="28.2" transform="matrix(1 0 0 1.02 0 -16.03)">40</text>
<text x="650.8" y="801.51" font-size="28.2" textLength="18.99" lengthAdjust="spacingAndGlyphs">−</text>
<text x="879.57" y="908.75" font-size="28.2" textLength="118.98" lengthAdjust="spacingAndGlyphs">Time (ns)</text>
<text transform="translate(628.91 790.41) rotate(-90)" x="0" y="0" font-size="28.2" textLength="173.86" lengthAdjust="spacingAndGlyphs">Pressure (Pa)</text>
</g>
<g>
<polyline points="1320.5,699.58 1329.2,699.46 1337.9,699.1 1346.59,698.38 1355.29,697.06 1363.99,694.9 1372.69,691.54 1381.39,686.74 1390.08,680.49 1398.78,672.09 1407.48,661.77 1416.18,648.8 1424.88,634.16 1433.57,617.6 1442.27,604.15 1450.97,596.95 1459.67,596.95 1468.37,606.07 1477.06,622.88 1485.76,648.08 1494.46,678.57 1503.16,715.3 1511.86,745.07 1520.55,771.24 1529.25,789.97 1537.95,800.05 1546.65,800.53 1555.35,794.05 1564.04,783.48 1572.74,769.32 1581.44,754.92 1590.14,741.47 1598.84,730.43 1607.53,721.07 1616.23,713.86 1624.93,708.82 1633.63,705.22 1642.33,702.82 1651.02,701.38 1659.72,700.66 1668.42,700.18 1677.12,699.99 1685.82,699.89 1694.51,699.82 1703.21,699.77 1711.91,699.75 1720.61,699.72 1729.31,699.7 1738,699.7 1746.7,699.7" fill="none" stroke="#000" stroke-width="2.5" stroke-linejoin="round"/>
<polyline points="1320.5,699.7 1329.2,699.7 1337.9,699.7 1346.59,699.7 1355.29,699.7 1363.99,699.7 1372.69,699.7 1381.39,699.7 1390.08,699.7 1398.78,699.7 1407.48,699.7 1416.18,699.7 1424.88,699.7 1433.57,699.7 1442.27,699.7 1450.97,699.7 1459.67,699.67 1468.37,699.58 1477.06,699.46 1485.76,699.26 1494.46,698.98 1503.16,698.65 1511.86,698.26 1520.55,697.82 1529.25,697.3 1537.95,696.58 1546.65,695.62 1555.35,694.81 1564.04,694.07 1572.74,693.31 1581.44,692.7 1590.14,692.39 1598.84,692.17 1607.53,692.04 1616.23,692.03 1624.93,692.16 1633.63,692.37 1642.33,692.6 1651.02,692.94 1659.72,693.38 1668.42,693.97 1677.12,694.86 1685.82,695.62 1694.51,696.53 1703.21,697.3 1711.91,697.68 1720.61,698.02 1729.31,698.53 1738,698.98 1746.7,699.22" fill="none" stroke="#0000ff" stroke-width="2.6" stroke-linejoin="round" stroke-dasharray="8.9 3.8"/>
<polyline points="1320.5,699.58 1329.2,699.51 1337.9,699.22 1346.59,698.62 1355.29,697.54 1363.99,695.62 1372.69,692.74 1381.39,688.42 1390.08,682.65 1398.78,674.97 1407.48,665.13 1416.18,652.53 1424.88,638 1433.57,621.32 1442.27,607.39 1450.97,599.35 1459.67,598.18 1468.37,605.71 1477.06,620.48 1485.76,643.96 1494.46,673.05 1503.16,708.91 1511.86,738.59 1520.55,765.68 1529.25,785.89 1537.95,798.37 1546.65,802.21 1555.35,797.34 1564.04,787.48 1572.74,774.88 1581.44,761.38 1590.14,749.1 1598.84,738.11 1607.53,729.48 1616.23,721.87 1624.93,717.05 1633.63,713.8 1642.33,711.2 1651.02,709.21 1659.72,707.95 1668.42,706.87 1677.12,705.8 1685.82,704.74 1694.51,703.86 1703.21,703.06 1711.91,702.31 1720.61,701.62 1729.31,700.99 1738,700.42 1746.7,699.94" fill="none" stroke="#ff0000" stroke-width="2.6" stroke-linejoin="round" stroke-dasharray="8.9 3.8"/>
<polyline points="1320.5,699.7 1329.2,699.65 1337.9,699.58 1346.59,699.46 1355.29,699.22 1363.99,698.98 1372.69,698.5 1381.39,698.02 1390.08,697.54 1398.78,696.82 1407.48,696.34 1416.18,695.98 1424.88,695.86 1433.57,695.98 1442.27,696.46 1450.97,697.3 1459.67,698.5 1468.37,700.18 1477.06,702.34 1485.76,704.26 1494.46,705.94 1503.16,707.14 1511.86,707.62 1520.55,707.14 1529.25,706.18 1537.95,704.5 1546.65,702.1 1555.35,700.18 1564.04,698.74 1572.74,698.02 1581.44,697.54 1590.14,697.3 1598.84,697.3 1607.53,697.54 1616.23,697.9 1624.93,698.26 1633.63,698.5 1642.33,698.74 1651.02,699.1 1659.72,699.46 1668.42,699.58 1677.12,699.65 1685.82,699.7 1694.51,699.7 1703.21,699.7 1711.91,699.7 1720.61,699.7 1729.31,699.7 1738,699.7 1746.7,699.7" fill="none" stroke="#00ff00" stroke-width="2.6" stroke-linejoin="round" stroke-dasharray="8.9 3.8"/>
<path d="M1320.5 833.9v-4.5M1320.5 565.5v4.5M1337.9 833.9v-2.4M1337.9 565.5v2.4M1355.29 833.9v-2.4M1355.29 565.5v2.4M1372.69 833.9v-2.4M1372.69 565.5v2.4M1390.08 833.9v-2.4M1390.08 565.5v2.4M1407.48 833.9v-4.5M1407.48 565.5v4.5M1424.88 833.9v-2.4M1424.88 565.5v2.4M1442.27 833.9v-2.4M1442.27 565.5v2.4M1459.67 833.9v-2.4M1459.67 565.5v2.4M1477.06 833.9v-2.4M1477.06 565.5v2.4M1494.46 833.9v-4.5M1494.46 565.5v4.5M1511.86 833.9v-2.4M1511.86 565.5v2.4M1529.25 833.9v-2.4M1529.25 565.5v2.4M1546.65 833.9v-2.4M1546.65 565.5v2.4M1564.04 833.9v-2.4M1564.04 565.5v2.4M1581.44 833.9v-4.5M1581.44 565.5v4.5M1598.84 833.9v-2.4M1598.84 565.5v2.4M1616.23 833.9v-2.4M1616.23 565.5v2.4M1633.63 833.9v-2.4M1633.63 565.5v2.4M1651.02 833.9v-2.4M1651.02 565.5v2.4M1668.42 833.9v-4.5M1668.42 565.5v4.5M1685.82 833.9v-2.4M1685.82 565.5v2.4M1703.21 833.9v-2.4M1703.21 565.5v2.4M1720.61 833.9v-2.4M1720.61 565.5v2.4M1738 833.9v-2.4M1738 565.5v2.4M1755.4 833.9v-4.5M1755.4 565.5v4.5M1320.5 831.74h2.4M1755.4 831.74h-2.4M1320.5 819.74h2.4M1755.4 819.74h-2.4M1320.5 807.73h2.4M1755.4 807.73h-2.4M1320.5 795.73h4.5M1755.4 795.73h-4.5M1320.5 783.73h2.4M1755.4 783.73h-2.4M1320.5 771.72h2.4M1755.4 771.72h-2.4M1320.5 759.72h2.4M1755.4 759.72h-2.4M1320.5 747.71h4.5M1755.4 747.71h-4.5M1320.5 735.71h2.4M1755.4 735.71h-2.4M1320.5 723.71h2.4M1755.4 723.71h-2.4M1320.5 711.7h2.4M1755.4 711.7h-2.4M1320.5 699.7h4.5M1755.4 699.7h-4.5M1320.5 687.7h2.4M1755.4 687.7h-2.4M1320.5 675.69h2.4M1755.4 675.69h-2.4M1320.5 663.69h2.4M1755.4 663.69h-2.4M1320.5 651.69h4.5M1755.4 651.69h-4.5M1320.5 639.68h2.4M1755.4 639.68h-2.4M1320.5 627.68h2.4M1755.4 627.68h-2.4M1320.5 615.67h2.4M1755.4 615.67h-2.4M1320.5 603.67h4.5M1755.4 603.67h-4.5M1320.5 591.67h2.4M1755.4 591.67h-2.4M1320.5 579.66h2.4M1755.4 579.66h-2.4M1320.5 567.66h2.4M1755.4 567.66h-2.4" stroke="#787878" stroke-width="1.0" fill="none"/>
<rect x="1320.5" y="565.5" width="434.9" height="268.4" fill="none" stroke="#9a9a9a" stroke-width="1.35"/>
<line x1="1320.5" y1="699.7" x2="1754.7" y2="699.7" stroke="#000" stroke-width="1.4"/>
<text x="1312.66" y="867.8" font-size="28.2" transform="matrix(1 0 0 1.02 0 -17.36)">0</text>
<text x="1391.27" y="867.8" font-size="28.2" transform="matrix(1 0 0 1.02 0 -17.36)">10</text>
<text x="1478.62" y="867.8" font-size="28.2" transform="matrix(1 0 0 1.02 0 -17.36)">20</text>
<text x="1565.77" y="867.8" font-size="28.2" transform="matrix(1 0 0 1.02 0 -17.36)">30</text>
<text x="1652.96" y="867.8" font-size="28.2" transform="matrix(1 0 0 1.02 0 -17.36)">40</text>
<text x="1739.7" y="867.8" font-size="28.2" transform="matrix(1 0 0 1.02 0 -17.36)">50</text>
<text x="1277.03" y="610.71" font-size="28.2" transform="matrix(1 0 0 1.02 0 -12.21)">40</text>
<text x="1277.03" y="658.71" font-size="28.2" transform="matrix(1 0 0 1.02 0 -13.17)">20</text>
<text x="1292.72" y="707.21" font-size="28.2" transform="matrix(1 0 0 1.02 0 -14.14)">0</text>
<text x="1277.03" y="754.61" font-size="28.2" transform="matrix(1 0 0 1.02 0 -15.09)">20</text>
<text x="1258.8" y="754.61" font-size="28.2" textLength="18.99" lengthAdjust="spacingAndGlyphs">−</text>
<text x="1277.03" y="802.71" font-size="28.2" transform="matrix(1 0 0 1.02 0 -16.05)">40</text>
<text x="1258.8" y="802.71" font-size="28.2" textLength="18.99" lengthAdjust="spacingAndGlyphs">−</text>
<text x="1472.97" y="908.75" font-size="28.2" textLength="119.08" lengthAdjust="spacingAndGlyphs">Time (ns)</text>
<text transform="translate(1240.41 791.09) rotate(-90)" x="0" y="0" font-size="28.2" textLength="172.43" lengthAdjust="spacingAndGlyphs">Pressure (Pa)</text>
</g>
<text x="-0.45" y="65.6" font-size="41.5" font-weight="bold" textLength="21.01" lengthAdjust="spacingAndGlyphs">a</text>
<text x="603.9" y="65.6" font-size="41.5" font-weight="bold" textLength="26.91" lengthAdjust="spacingAndGlyphs">b</text>
<text x="1215.62" y="65.6" font-size="41.5" font-weight="bold" textLength="23.94" lengthAdjust="spacingAndGlyphs">c</text>
<text x="-1.84" y="551.3" font-size="41.5" font-weight="bold" textLength="27.4" lengthAdjust="spacingAndGlyphs">d</text>
<text x="602.69" y="550" font-size="41.5" font-weight="bold" textLength="25.8" lengthAdjust="spacingAndGlyphs">e</text>
<text x="1215.59" y="552.3" font-size="41.5" font-weight="bold" textLength="13.83" lengthAdjust="spacingAndGlyphs">f</text>
<text x="252.1" y="20.9" font-size="28.2" textLength="128.49" lengthAdjust="spacingAndGlyphs">0 nm shell</text>
<text x="264.78" y="55.8" font-size="28.2" textLength="20.43" lengthAdjust="spacingAndGlyphs" transform="matrix(1 0 0 1.05 0 -2.79)">H</text>
<text x="285.19" y="64" font-size="20">2</text>
<text transform="translate(302.12 55.43) scale(1.01 0.76)" font-size="28.2">≈</text>
<text x="324.64" y="55.8" font-size="28.2" textLength="20.81" lengthAdjust="spacingAndGlyphs" transform="matrix(1 0 0 1.05 0 -2.79)">H</text>
<text x="344.99" y="64" font-size="20">22</text>
<text x="851.65" y="57.9" font-size="28.2" textLength="144.34" lengthAdjust="spacingAndGlyphs">15 nm shell</text>
<text x="1456.85" y="20.5" font-size="28.2" textLength="145.46" lengthAdjust="spacingAndGlyphs">45 nm shell</text>
<text x="1352.68" y="57.7" font-size="28.2" textLength="226.58" lengthAdjust="spacingAndGlyphs">positive amplitude</text>
<text x="1587.05" y="57.7" font-size="28.2" textLength="20.69" lengthAdjust="spacingAndGlyphs" transform="matrix(1 0 0 1.05 0 -2.89)">H</text>
<text x="1607.59" y="65.9" font-size="20">22</text>
<text transform="translate(1635.39 57.83) scale(1.05 0.81)" font-size="28.2">≈</text>
<text x="1658.19" y="57.7" font-size="28.2" textLength="21.2" lengthAdjust="spacingAndGlyphs" transform="matrix(1 0 0 1.05 0 -2.89)">H</text>
<text x="1678.69" y="65.9" font-size="20">2</text>
<text x="1695.94" y="65.9" font-size="20">s</text>
<text x="244.95" y="543" font-size="28.2" textLength="145.65" lengthAdjust="spacingAndGlyphs">60 nm shell</text>
<text x="867.26" y="507" font-size="28.2" textLength="145.64" lengthAdjust="spacingAndGlyphs">90 nm shell</text>
<text x="750.28" y="544.5" font-size="28.2" textLength="226.58" lengthAdjust="spacingAndGlyphs">positive amplitude</text>
<text x="984.64" y="544.5" font-size="28.2" textLength="20.81" lengthAdjust="spacingAndGlyphs" transform="matrix(1 0 0 1.05 0 -27.23)">H</text>
<text x="1004.89" y="552.7" font-size="20">2</text>
<text transform="translate(1021.9 544.73) scale(1.03 0.85)" font-size="28.2">≈</text>
<text x="1044.55" y="544.5" font-size="28.2" textLength="20.69" lengthAdjust="spacingAndGlyphs" transform="matrix(1 0 0 1.05 0 -27.23)">H</text>
<text x="1064.59" y="552.7" font-size="20">2</text>
<text x="1082.14" y="552.7" font-size="20">s</text>
<text x="1450.75" y="507.8" font-size="28.2" textLength="159.73" lengthAdjust="spacingAndGlyphs">180 nm shell</text>
<text x="1486.67" y="547.7" font-size="28.2" textLength="20.56" lengthAdjust="spacingAndGlyphs" transform="matrix(1 0 0 1.05 0 -27.39)">H</text>
<text x="1506.99" y="555.9" font-size="20">2</text>
<text transform="translate(1524.03 547.38) scale(1 0.82)" font-size="28.2">≈</text>
<text x="1546.22" y="547.7" font-size="28.2" textLength="20.94" lengthAdjust="spacingAndGlyphs" transform="matrix(1 0 0 1.05 0 -27.39)">H</text>
<text x="1566.79" y="555.9" font-size="20">2</text>
<text x="1583.94" y="555.9" font-size="20">s</text>
<line x1="1780.1" y1="140.3" x2="1809.6" y2="140.3" stroke="#000" stroke-width="2.5"/>
<text x="1818.57" y="142.9" font-size="28.2" textLength="62.51" lengthAdjust="spacingAndGlyphs">Total</text>
<line x1="1780" y1="190.4" x2="1838.9" y2="190.4" stroke="#00ff00" stroke-width="2.6" stroke-dasharray="8.9 3.6"/>
<text x="1853.45" y="198" font-size="28.2" textLength="61.82" lengthAdjust="spacingAndGlyphs">Core</text>
<line x1="1780" y1="240.4" x2="1838.9" y2="240.4" stroke="#ff0000" stroke-width="2.6" stroke-dasharray="8.9 3.6"/>
<text x="1853.98" y="248.2" font-size="28.2" textLength="127.41" lengthAdjust="spacingAndGlyphs">Fluid shell</text>
<line x1="1780" y1="290.0" x2="1838.9" y2="290.0" stroke="#0000ff" stroke-width="2.6" stroke-dasharray="8.9 3.6"/>
<text x="1853.76" y="297.7" font-size="28.2" textLength="196.3" lengthAdjust="spacingAndGlyphs">The rest of fluid</text>
</svg>
</body></html>
